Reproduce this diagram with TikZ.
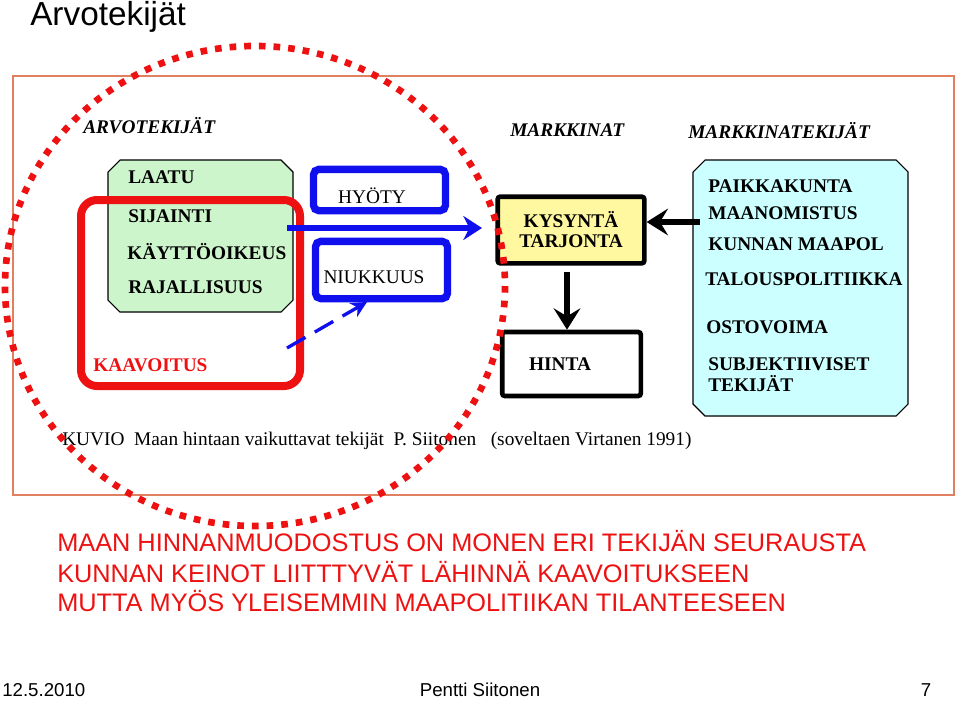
\documentclass[tikz,border=0pt]{standalone}
\usepackage{fontspec}
\setmainfont{Liberation Serif}
\newfontfamily\sansf{Liberation Sans}
\usetikzlibrary{arrows.meta,shapes.misc}
\definecolor{frame}{HTML}{E08060}
\definecolor{gfill}{HTML}{CCF5CC}
\definecolor{cfill}{HTML}{CCFFFF}
\definecolor{yfill}{HTML}{FFF8A0}
\definecolor{myred}{HTML}{EE1111}
\definecolor{myblue}{HTML}{1010EE}
\tikzset{
 bt/.style={font=\bfseries\fontsize{14.5}{16}\selectfont,anchor=west,inner sep=0},
 it/.style={font=\bfseries\itshape\fontsize{14.5}{16}\selectfont,anchor=west,inner sep=0},
 redt/.style={font=\sansf\fontsize{19}{22}\selectfont,text=myred,anchor=west,inner sep=0},
 bluebox/.style={draw=myblue,line width=5.5pt,rounded corners=4pt},
 blackbox/.style={draw=black,line width=3.5pt,rounded corners=2pt},
}
\begin{document}
\begin{tikzpicture}[x=0.75pt,y=-0.75pt]
\useasboundingbox (0,0) rectangle (959,700);
\node[font=\sansf\fontsize{25}{28}\selectfont,anchor=west,inner sep=0] (title) at (30,17) {Arvotekijät};
\draw[frame,line width=0.8pt] (13,76) rectangle (954,495);
% boxes
\draw[fill=gfill,draw=black,line width=0.8pt] (120,160) -- (281,160) -- (293,172) -- (293,300) -- (281,312) -- (120,312) -- (108,300) -- (108,172) -- cycle;
\draw[fill=cfill,draw=black,line width=0.8pt] (705,160) -- (896,160) -- (908,172) -- (908,404) -- (896,416) -- (705,416) -- (693,404) -- (693,172) -- cycle;
\draw[myred,line width=6pt,rounded corners=12pt] (81,200) rectangle (300,386);
\node[bluebox,minimum width=99pt,minimum height=31pt] (hyoty) at (379.5,190) {};
\node[font=\fontsize{14.5}{16}\selectfont] at (372,196) {HYÖTY};
\node[bluebox,minimum width=99pt,minimum height=43pt] (niuk) at (381.5,270) {};
\node[font=\fontsize{14.5}{16}\selectfont] at (374,277) {NIUKKUUS};
\node[blackbox,fill=yfill,minimum width=110pt,minimum height=50pt,align=center,font=\bfseries\fontsize{14.5}{15}\selectfont] (kys) at (571,230) {KYSYNTÄ\\TARJONTA};
\node[blackbox,fill=white,minimum width=104pt,minimum height=48pt] (hinta) at (571.5,364) {};
\node[font=\bfseries\fontsize{14.5}{16}\selectfont] at (560,364) {HINTA};
% texts
\node[it] (arvo) at (83,126) {ARVOTEKIJÄT};
\node[it] (mk) at (510,130) {MARKKINAT};
\node[it] (mkt) at (688,131) {MARKKINATEKIJÄT};
\node[bt] at (128,177) {LAATU};
\node[bt] at (128,216) {SIJAINTI};
\node[bt] at (127,252) {KÄYTTÖOIKEUS};
\node[bt] at (128,287) {RAJALLISUUS};
\node[bt,text=myred] at (93,365) {KAAVOITUS};
\node[bt] at (708,186) {PAIKKAKUNTA};
\node[bt] at (708,213) {MAANOMISTUS};
\node[bt] at (708,244) {KUNNAN MAAPOL};
\node[bt] (talous) at (705,279) {TALOUSPOLITIIKKA};
\node[bt] at (706,327) {OSTOVOIMA};
\node[bt,align=left] at (708,375) {SUBJEKTIIVISET\\TEKIJÄT};
\node[font=\fontsize{14.5}{16}\selectfont,anchor=west,inner sep=0] (cap) at (62,441) {KUVIO\ \ Maan hintaan vaikuttavat tekijät\ \ P. Siitonen\ \ \ (soveltaen Virtanen 1991)};
% arrows
\coordinate (bs) at (287,228);
\coordinate (be) at (482,228);
\coordinate (ds) at (287,348);
\coordinate (ks) at (700,222);
\draw[myblue,line width=4pt,-{Stealth[length=14pt,width=18pt]}] (bs) -- (be);
\draw[myblue,line width=2.5pt,dash pattern=on 16pt off 8pt,-{Stealth[length=12pt,width=12pt]}] (ds) -- (367,302);
\draw[black,line width=4pt,-{Stealth[length=16pt,width=20pt,inset=6pt]}] (ks) -- (kys.east |- ks);
\draw[black,line width=4pt,-{Stealth[length=16pt,width=20pt,inset=6pt]}] (567,272) -- (hinta.north -| 567,0);
% dotted ellipse
\draw[myred,line width=5pt,dash pattern=on 5pt off 6pt] (255,286) ellipse [x radius=250, y radius=240];
% red text
\node[redt] at (57,541) {MAAN HINNANMUODOSTUS ON MONEN ERI TEKIJÄN SEURAUSTA};
\node[redt] at (57,572) {KUNNAN KEINOT LIITTTYVÄT LÄHINNÄ KAAVOITUKSEEN};
\node[redt] at (57,601) {MUTTA MYÖS YLEISEMMIN MAAPOLITIIKAN TILANTEESEEN};
% footer
\node[font=\sansf\fontsize{14}{16}\selectfont,anchor=west,inner sep=0] at (2,690) {12.5.2010};
\node[font=\sansf\fontsize{14}{16}\selectfont,inner sep=0] at (480,690) {Pentti Siitonen};
\node[font=\sansf\fontsize{14}{16}\selectfont,inner sep=0] at (926,690) {7};
\end{tikzpicture}
\end{document}
